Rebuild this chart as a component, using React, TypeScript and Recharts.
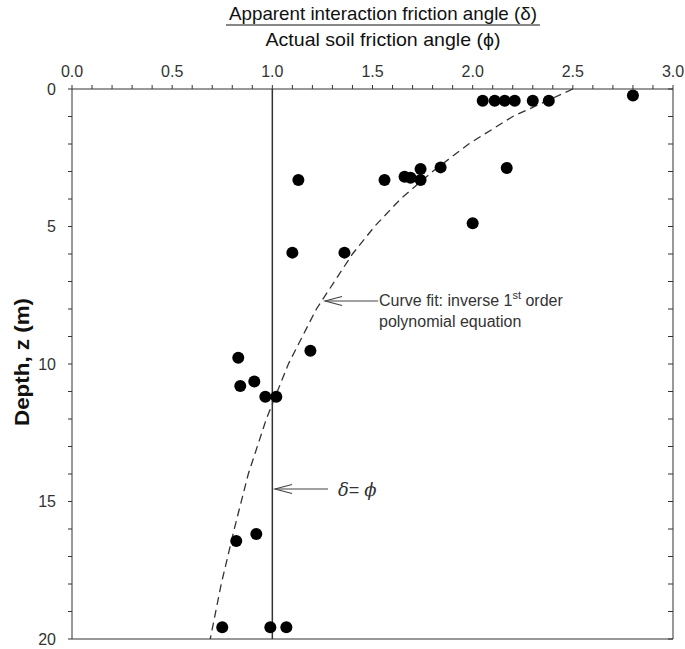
import {
  ReferenceLine,
  Scatter,
  ScatterChart,
  XAxis,
  YAxis,
} from "recharts";

// measured points: friction angle ratio (delta/phi) vs depth z (m)
const ratio = [
  2.05, 2.11, 2.16, 2.21, 2.3, 2.38, 2.8, 1.84, 2.17, 1.74, 1.74, 1.66, 1.69,
  1.56, 1.13, 2.0, 1.1, 1.36, 0.83, 1.19, 0.84, 0.91, 0.965, 1.02, 0.82, 0.92,
  0.75, 0.99, 1.07,
];
const depth = [
  0.43, 0.43, 0.43, 0.43, 0.43, 0.43, 0.24, 2.85, 2.87, 2.91, 3.31, 3.19, 3.23,
  3.31, 3.31, 4.88, 5.95, 5.95, 9.77, 9.52, 10.8, 10.64, 11.19, 11.19, 16.44,
  16.18, 19.57, 19.57, 19.57,
];

// dashed curve fit
const fitDepth = [0, 1, 2, 3, 4, 5, 6, 7, 8, 10, 12, 14, 16, 18, 20];
const fitRatio = [
  2.5, 2.2, 1.98, 1.8, 1.64, 1.51, 1.4, 1.31, 1.22, 1.08, 0.97, 0.88, 0.81,
  0.745, 0.69,
];

const xTicks = [
  0, 0.1, 0.2, 0.3, 0.4, 0.5, 0.6, 0.7, 0.8, 0.9, 1, 1.1, 1.2, 1.3, 1.4, 1.5,
  1.6, 1.7, 1.8, 1.9, 2, 2.1, 2.2, 2.3, 2.4, 2.5, 2.6, 2.7, 2.8, 2.9, 3,
];
const yTicks = [
  0, 1, 2, 3, 4, 5, 6, 7, 8, 9, 10, 11, 12, 13, 14, 15, 16, 17, 18, 19, 20,
];

const points = ratio.map((r, i) => ({ x: r, z: depth[i] }));
const fit = fitRatio.map((r, i) => ({ x: r, z: fitDepth[i] }));

const FONT = "'Liberation Sans', Arial, sans-serif";
const INK = "#333";

const xLabel = (v: number) =>
  Math.abs(v * 2 - Math.round(v * 2)) < 1e-6 ? v.toFixed(1) : "";
const yLabel = (v: number) => (v % 5 === 0 ? String(v) : "");

const Dot = (p: any) => <circle cx={p.cx} cy={p.cy} r={6} fill="#000" />;
const NoDot = () => <g />;
const NoTick = () => <g />;

export default function App() {
  return (
    <div style={{ position: "absolute", left: 0, top: 0, width: 685, height: 649, background: "#fff" }}>
      <ScatterChart
        width={685}
        height={649}
        margin={{ top: 49, right: 12, bottom: 9, left: 0 }}
      >
        <XAxis
          type="number"
          dataKey="x"
          orientation="top"
          domain={[0, 3]}
          ticks={xTicks}
          interval={0}
          tickFormatter={xLabel}
          height={40}
          tickSize={4}
          tickMargin={8}
          stroke={INK}
          tick={{ fill: INK, fontSize: 16, fontFamily: FONT }}
        />
        <XAxis
          xAxisId="b"
          type="number"
          dataKey="x"
          orientation="bottom"
          domain={[0, 3]}
          height={1}
          tick={false}
          tickLine={false}
          stroke={INK}
        />
        <YAxis
          type="number"
          dataKey="z"
          reversed
          domain={[0, 20]}
          ticks={yTicks}
          interval={0}
          tickFormatter={yLabel}
          width={72}
          tickSize={4}
          tickMargin={12}
          stroke={INK}
          tick={{ fill: INK, fontSize: 16, fontFamily: FONT }}
        />
        <YAxis
          yAxisId="r"
          type="number"
          dataKey="z"
          orientation="right"
          reversed
          domain={[0, 20]}
          ticks={yTicks}
          interval={0}
          width={1}
          mirror
          tick={NoTick}
          tickLine={{ stroke: INK }}
          tickSize={5}
          stroke={INK}
        />
        <ReferenceLine x={1} stroke={INK} strokeWidth={1.5} />
        <Scatter
          xAxisId="b"
          yAxisId="r"
          data={fit}
          shape={NoDot}
          line={{ stroke: INK, strokeWidth: 1.3, strokeDasharray: "8 5" }}
          lineType="joint"
          isAnimationActive={false}
        />
        <Scatter data={points} shape={Dot} isAnimationActive={false} />
      </ScatterChart>
      <svg
        width={685}
        height={649}
        style={{ position: "absolute", left: 0, top: 0, pointerEvents: "none" }}
        fontFamily={FONT}
      >
        <text x={383} y={20} fontSize={19} textAnchor="middle" fill="#111" textLength={308} lengthAdjust="spacingAndGlyphs">
          Apparent interaction friction angle (δ)
        </text>
        <line x1={226} x2={540} y1={25} y2={25} stroke="#111" strokeWidth={1.2} />
        <text x={383} y={46} fontSize={19} textAnchor="middle" fill="#111" textLength={235} lengthAdjust="spacingAndGlyphs">
          Actual soil friction angle (ϕ)
        </text>
        <text
          transform="translate(29 362) rotate(-90)"
          textAnchor="middle"
          fontSize={20}
          fontWeight="bold"
          fill="#111"
          textLength={128}
          lengthAdjust="spacingAndGlyphs"
        >
          Depth, z (m)
        </text>

        {/* annotations */}
        <g stroke="#444" strokeWidth={1.1} fill="none">
          <line x1={378} y1={301} x2={325} y2={301} />
          <polyline points="342,296.5 325,301 342,305.5" />
          <line x1={328} y1={489} x2={275} y2={489} />
          <polyline points="292,484.5 275,489 292,493.5" />
        </g>
        <text x={379} y={306} fontSize={16} fill="#333">
          Curve fit: inverse 1<tspan dy={-7} fontSize={11}>st</tspan>
          <tspan dy={7}> order</tspan>
        </text>
        <text x={379} y={327} fontSize={16} fill="#333">
          polynomial equation
        </text>
        <text x={338} y={496} fontSize={18} fill="#333" fontStyle="italic" fontFamily="'DejaVu Serif', serif">
          δ<tspan fontStyle="normal" fontFamily={FONT}>= </tspan>ϕ
        </text>
      </svg>
    </div>
  );
}
